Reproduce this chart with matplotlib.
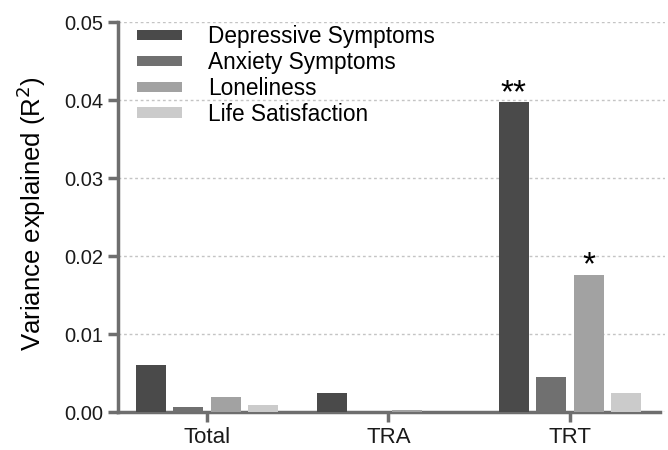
import numpy as np
import matplotlib
matplotlib.use('Agg')
from matplotlib import pyplot as plt

plt.rcParams['font.family'] = ['Liberation Sans', 'DejaVu Sans']

groups = ['Total', 'TRA', 'TRT']
series = ['Depressive Symptoms', 'Anxiety Symptoms', 'Loneliness', 'Life Satisfaction']
depressive = [0.0060, 0.0024, 0.0397]
anxiety = [0.0006, 0.0, 0.0045]
loneliness = [0.0019, 0.0003, 0.0176]
life_sat = [0.0009, 0.0, 0.0024]
stars = {('TRT', 'Depressive Symptoms'): '**', ('TRT', 'Loneliness'): '*'}

colors = ['#4a4a4a', '#707070', '#a2a2a2', '#cbcbcb']
axis_grey = '#6e6e6e'

fig = plt.figure(figsize=(6.68, 4.5), dpi=100)
ax = fig.add_axes([0.1766, 0.0844, 0.8189, 0.8667])

x = np.arange(len(groups))
step = 0.2066
width = 0.165
values = [depressive, anxiety, loneliness, life_sat]
for i, (name, vals, c) in enumerate(zip(series, values, colors)):
    pos = x + (i - 1.5) * step
    ax.bar(pos, vals, width=width, color=c, label=name, zorder=3)
    for j, g in enumerate(groups):
        s = stars.get((g, name))
        if s:
            # asterisk glyph sits high in the em box, so anchor on baseline
            ax.text(pos[j], vals[j], s, ha='center', va='baseline',
                    fontsize=24, zorder=4)

ax.set_xlim(-0.49, 2.523)
ax.set_ylim(0, 0.05)
ax.set_yticks([0, 0.01, 0.02, 0.03, 0.04, 0.05])
ax.set_yticklabels(['0.00', '0.01', '0.02', '0.03', '0.04', '0.05'])
ax.set_xticks(x)
ax.set_xticklabels(groups)
ax.set_ylabel('Variance explained (R$^2$)', fontsize=18.5)
ax.yaxis.set_label_coords(-0.128, 0.51)

ax.yaxis.grid(True, color='#c4c4c4', linestyle=(0, (2, 2)), linewidth=1, zorder=0)
for sp in ['top', 'right']:
    ax.spines[sp].set_visible(False)
for sp in ['left', 'bottom']:
    ax.spines[sp].set_color(axis_grey)
    ax.spines[sp].set_linewidth(2.5)
ax.spines['bottom'].set_bounds(-0.49, 2.496)
ax.tick_params(axis='both', colors=axis_grey, width=2.5, length=7.5,
               labelcolor='#1a1a1a')
ax.tick_params(axis='x', labelsize=16, pad=3)
ax.tick_params(axis='y', labelsize=14.5, pad=3)

ax.legend(loc='upper left', bbox_to_anchor=(0.0347, 0.992), frameon=False,
          fontsize=16.3, handlelength=2.0, handleheight=0.35,
          handletextpad=1.15, labelspacing=0.13, borderpad=0, borderaxespad=0)

fig.savefig('out.png', dpi=100)
